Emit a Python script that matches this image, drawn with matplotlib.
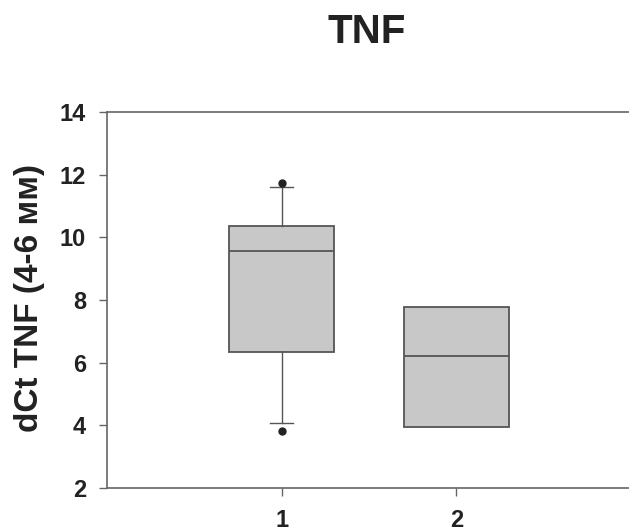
import matplotlib
matplotlib.use("Agg")
import matplotlib.pyplot as plt

plt.rcParams['font.family'] = ['Liberation Sans', 'DejaVu Sans']

groups = ["1", "2"]
q1 = [6.34, 3.95]
med = [9.57, 6.22]
q3 = [10.37, 7.78]
whislo = [4.06, 3.95]
whishi = [11.62, 7.78]
fliers = [[3.83, 11.72], []]
yticks = [2, 4, 6, 8, 10, 12, 14]

stats = []
for i, g in enumerate(groups):
    stats.append(dict(label=g, q1=q1[i], med=med[i], q3=q3[i],
                      whislo=whislo[i], whishi=whishi[i], fliers=fliers[i]))

fig = plt.figure(figsize=(6.29, 5.31), dpi=100)
ax = fig.add_axes([107/629, 1-488/531, (629-107)/629 + 0.003, (488-112)/531])

lc = '#555555'
showcaps = [True, False]
for i, s in enumerate(stats):
    ax.bxp([s], positions=[i + 1], widths=0.6, patch_artist=True,
           showcaps=showcaps[i],
           boxprops=dict(facecolor='#c8c8c8', edgecolor=lc, linewidth=1.3),
           medianprops=dict(color=lc, linewidth=1.3),
           whiskerprops=dict(color=lc, linewidth=1.0),
           capprops=dict(color=lc, linewidth=1.0),
           capwidths=0.13,
           flierprops=dict(marker='o', markerfacecolor='#222222',
                           markeredgecolor='#222222', markersize=5))

ax.set_xlim(0, 3)
ax.set_ylim(2, 14)
ax.set_yticks(yticks)
ax.set_xticks([1, 2])
ax.set_xticklabels(groups)
for sp in ax.spines.values():
    sp.set_color('#666666')
    sp.set_linewidth(1.2)
ax.tick_params(axis='both', direction='out', length=6, width=1.0, color='#666666',
               labelsize=17, labelcolor='#222222')
ax.tick_params(axis='y', pad=9)
ax.tick_params(axis='x', pad=9)
for lab in ax.get_xticklabels() + ax.get_yticklabels():
    lab.set_fontweight('bold')
ax.set_ylabel('dCt TNF (4-6 мм)', fontsize=24, fontweight='bold', color='#222222')
ax.yaxis.set_label_coords(45/629, 1-298/531, transform=fig.transFigure)
fig.text(367/629, 1-32/531, 'TNF', ha='center', va='center', fontsize=29,
         fontweight='bold', color='#222222')

fig.savefig('out.png', dpi=100)
